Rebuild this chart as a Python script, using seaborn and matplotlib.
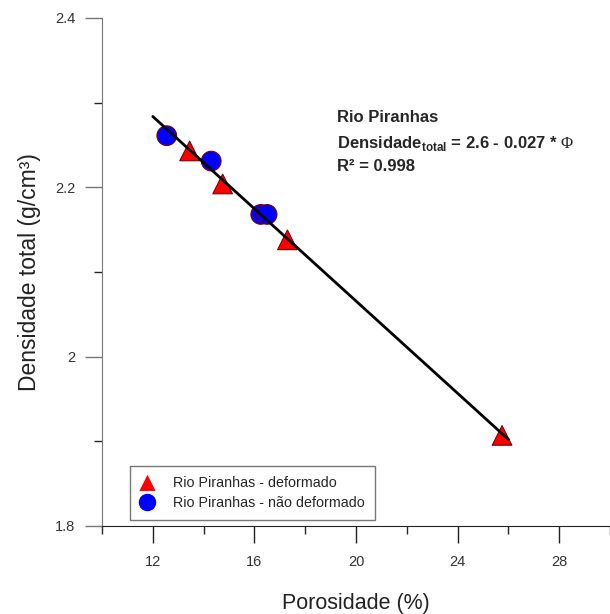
import numpy as np
import pandas as pd
import matplotlib
matplotlib.use("Agg")
import matplotlib.pyplot as plt
import seaborn as sns

# Data
def_poros = [13.45, 14.75, 17.3, 25.75]
def_dens = [2.243, 2.204, 2.138, 1.907]
nd_poros = [12.55, 14.3, 16.25, 16.5]
nd_dens = [2.261, 2.231, 2.168, 2.168]
groups = ["Rio Piranhas - deformado", "Rio Piranhas - não deformado"]
x_ticks = [12, 16, 20, 24, 28]
y_ticks = [1.8, 2.0, 2.2, 2.4]
y_tick_labels = ["1.8", "2", "2.2", "2.4"]

sns.set_style("white")
plt.rcParams['font.family'] = ['Liberation Sans', 'DejaVu Sans']
plt.rcParams['mathtext.fontset'] = 'custom'
plt.rcParams['mathtext.rm'] = 'Liberation Serif'
plt.rcParams['mathtext.bf'] = 'Liberation Sans:bold'

df = pd.DataFrame({
    "Porosidade": def_poros + nd_poros,
    "Densidade": def_dens + nd_dens,
    "Grupo": [groups[0]] * len(def_poros) + [groups[1]] * len(nd_poros),
})

fig = plt.figure(figsize=(6.1, 6.14), dpi=100)
ax = fig.add_axes([102/610, 1 - 526/614, 508/610, 508/614])

sns.scatterplot(data=df, x="Porosidade", y="Densidade", hue="Grupo", style="Grupo",
                hue_order=groups, style_order=groups,
                palette={groups[0]: "#ff0000", groups[1]: "#0000ff"},
                markers={groups[0]: "^", groups[1]: "o"},
                s=200, linewidth=0.8, ax=ax, zorder=2)
# edge colors
coll = ax.collections
for c, ec in zip(coll, ["#7a0000", "#000060"]):
    c.set_edgecolor(ec)

# regression line
slope, intercept = np.polyfit(df["Porosidade"], df["Densidade"], 1)
fx = np.array([12.0, 26.0])
sns.lineplot(x=fx, y=intercept + slope * fx, color="black", linewidth=2, ax=ax, zorder=3)

ax.set_xlim(10, 30)
ax.set_ylim(1.8, 2.4)
ax.set_xticks(x_ticks)
ax.set_xticks([10, 14, 18, 22, 26, 30], minor=True)
ax.set_yticks(y_ticks)
ax.set_yticklabels(y_tick_labels)
ax.set_yticks([1.9, 2.1, 2.3], minor=True)
ax.tick_params(axis="both", which="major", direction="out", length=12, width=1,
               labelsize=10.5, labelcolor="#333333", pad=9, left=True, bottom=True)
ax.tick_params(axis="both", which="minor", direction="out", length=6, width=1,
               left=True, bottom=True)
ax.tick_params(axis="y", colors="#777777", labelcolor="#333333", pad=7)
ax.tick_params(axis="x", colors="#222222", labelcolor="#333333")

for s in ["top", "right"]:
    ax.spines[s].set_visible(False)
ax.spines["left"].set_color("#777777")
ax.spines["bottom"].set_color("#222222")

ax.set_xlabel("Porosidade (%)", fontsize=15.5, color="#222222", va="center")
ax.xaxis.set_label_coords(0.5, (526 - 603) / 508)
ax.set_ylabel("Densidade total (g/cm³)", fontsize=16.5, color="#222222", va="center")
ax.yaxis.set_label_coords((30 - 102) / 508, 0.5)

# annotations
ax.text(0.4626, 0.819, "Rio Piranhas", transform=ax.transAxes, fontsize=12,
        fontweight="bold", va="top", ha="left")
ax.text(0.4626, 0.771, r"Densidade$_{\mathbf{total}}$ = 2.6 - 0.027 * $\Phi$",
        transform=ax.transAxes, fontsize=12, fontweight="bold", va="top", ha="left")
ax.text(0.4626, 0.723, "R² = 0.998", transform=ax.transAxes, fontsize=12,
        fontweight="bold", va="top", ha="left")

leg = ax.legend(loc="lower left", bbox_to_anchor=(28/508, 6/508), fontsize=10.3,
                frameon=True, fancybox=False, edgecolor="#555555",
                handletextpad=1.3, handlelength=1.0, borderpad=0.7, labelspacing=0.45,
                markerscale=0.95, borderaxespad=0)
leg.get_frame().set_linewidth(1)

fig.savefig("out.png", dpi=100)
